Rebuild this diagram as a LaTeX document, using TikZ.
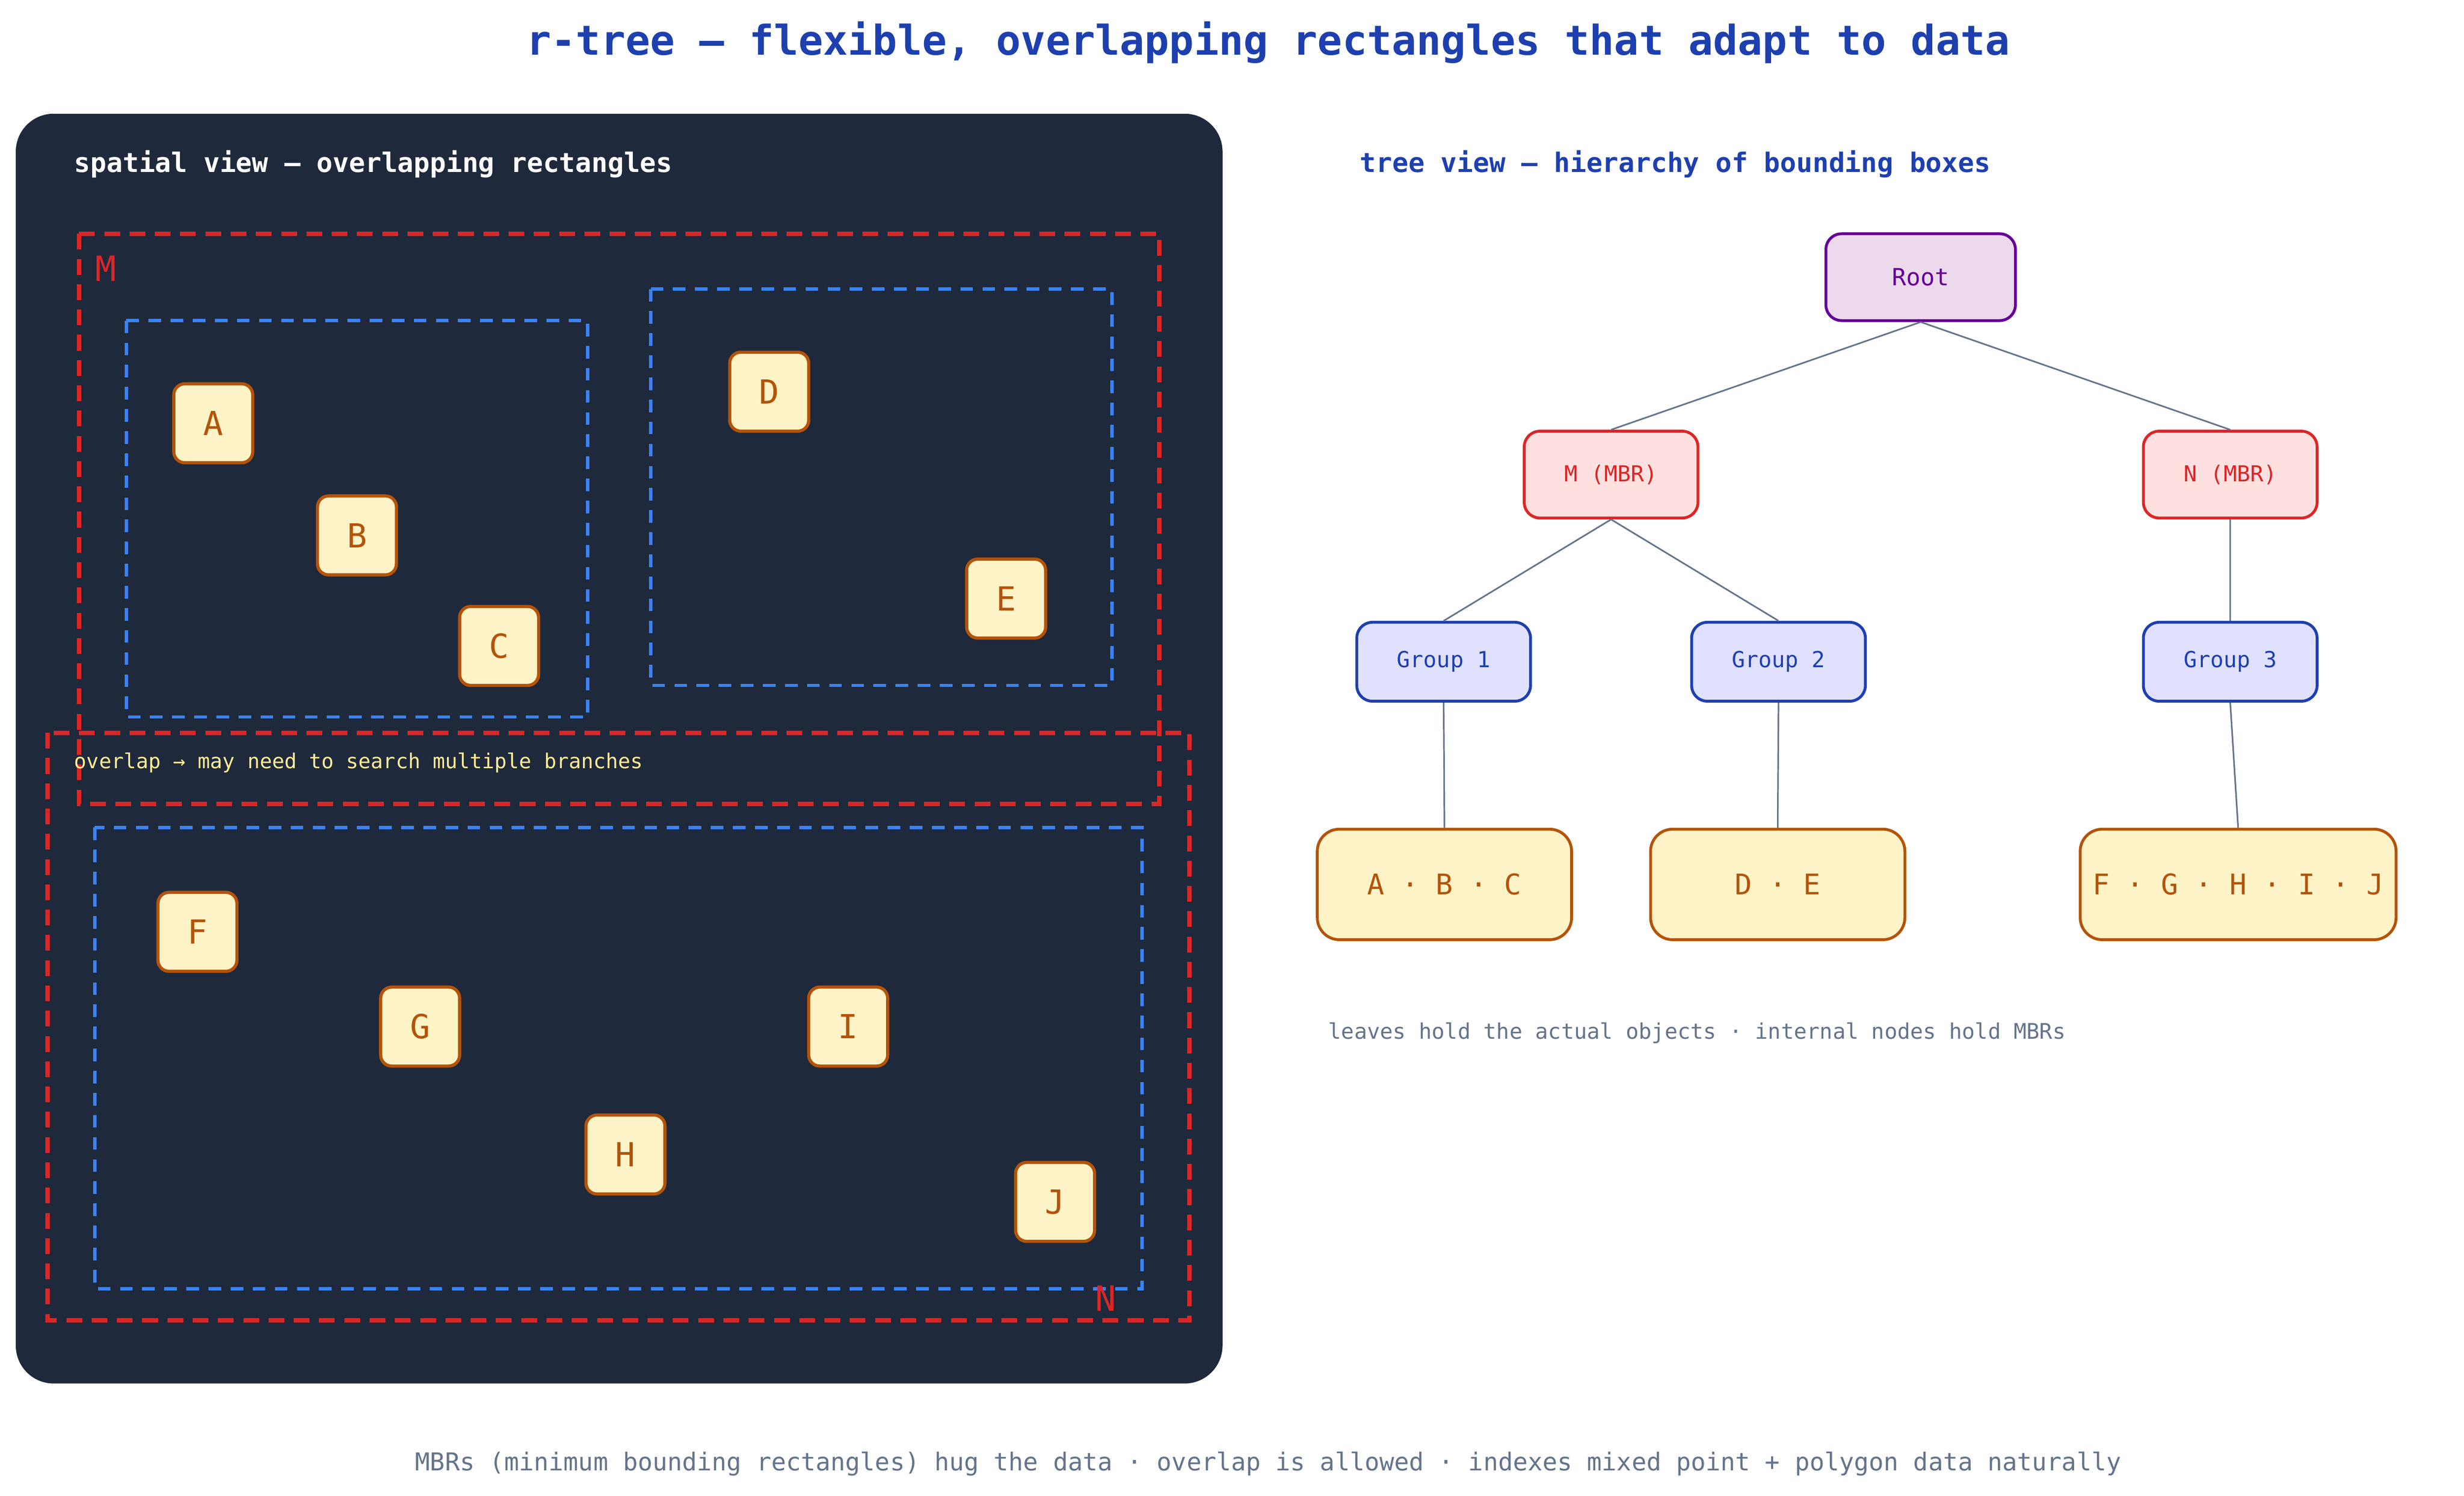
\documentclass[tikz,border=0pt]{standalone}
\usepackage{fontspec}
\setmainfont{DejaVu Sans Mono}
\begin{document}
\begin{tikzpicture}[x=0.5pt,y=-0.5pt,
 obj/.style={draw=brownc,fill=yel,line width=1pt,rounded corners=3.5pt,minimum width=25pt,minimum height=25pt,text=brownc,font=\fontsize{10.5}{12}\selectfont},
 mbr/.style={draw=redc,dash pattern=on 5pt off 3pt,line width=1.4pt},
 grp/.style={draw=bluec,dash pattern=on 4pt off 3pt,line width=1pt},
 tn/.style={rounded corners=5pt,line width=0.9pt,font=\fontsize{7}{8}\selectfont,minimum height=27.5pt,minimum width=55pt},
 edge/.style={draw=grayc,line width=0.5pt}]
\definecolor{panel}{HTML}{1E293B}
\definecolor{yel}{HTML}{FEF3C7}
\definecolor{brownc}{HTML}{B45309}
\definecolor{redc}{HTML}{DC2626}
\definecolor{bluec}{HTML}{3B82F6}
\definecolor{dblue}{HTML}{1E40AF}
\definecolor{grayc}{HTML}{64748B}
\useasboundingbox (0,0) rectangle (1560,947);
\fill[white] (0,0) rectangle (1560,947);
\node[text=dblue,font=\fontsize{13}{15}\selectfont\bfseries] (title) at (803,27) {r-tree — flexible, overlapping rectangles that adapt to data};
\fill[panel,rounded corners=12pt] (10,72) rectangle (774,876);
\node[anchor=west,text=white,font=\fontsize{8.5}{10}\selectfont\bfseries] (sv) at (40,104) {spatial view — overlapping rectangles};
\draw[mbr] (50,148) rectangle (734,509);
\node[text=redc,font=\fontsize{11}{12}\selectfont] (ml) at (67,170) {M};
\draw[grp] (80,203) rectangle (372,454);
\draw[grp] (412,183) rectangle (704,434);
\draw[mbr] (30,464) rectangle (753,836);
\draw[grp] (60,524) rectangle (723,816);
\node[text=redc,font=\fontsize{11}{12}\selectfont] (nl) at (700,822) {N};
\node[anchor=west,text=yellow!70!orange!40,font=\fontsize{6.5}{8}\selectfont] (ov) at (40,483) {overlap → may need to search multiple branches};
\foreach \n/\x/\y in {A/135/268,B/226/339,C/316/409,D/487/248,E/637/379,F/125/590,G/266/650,I/537/650,H/396/731,J/668/761}
 \node[obj] (o\n) at (\x,\y) {\n};
\node[anchor=west,text=dblue,font=\fontsize{8.5}{10}\selectfont\bfseries] (tv) at (854,104) {tree view — hierarchy of bounding boxes};
\node[tn,draw=violet!80!blue,fill=violet!15,text=violet!80!blue,minimum width=60pt,font=\fontsize{7.5}{9}\selectfont] (root) at (1216,175.5) {Root};
\node[tn,draw=redc,fill=red!12,text=redc] (m) at (1020,300.5) {M (MBR)};
\node[tn,draw=redc,fill=red!12,text=redc] (n) at (1412,300.5) {N (MBR)};
\node[tn,draw=dblue,fill=blue!12,text=dblue,minimum height=25pt] (g1) at (914,419) {Group 1};
\node[tn,draw=dblue,fill=blue!12,text=dblue,minimum height=25pt] (g2) at (1126,419) {Group 2};
\node[tn,draw=dblue,fill=blue!12,text=dblue,minimum height=25pt] (g3) at (1412,419) {Group 3};
\node[tn,draw=brownc,fill=yel,text=brownc,minimum width=80.5pt,minimum height=35pt,rounded corners=7pt,font=\fontsize{9}{10}\selectfont] (l1) at (914.5,560) {A · B · C};
\node[tn,draw=brownc,fill=yel,text=brownc,minimum width=80.5pt,minimum height=35pt,rounded corners=7pt,font=\fontsize{9}{10}\selectfont] (l2) at (1125.5,560) {D · E};
\node[tn,draw=brownc,fill=yel,text=brownc,minimum width=100pt,minimum height=35pt,rounded corners=7pt,font=\fontsize{9}{10}\selectfont] (l3) at (1417,560) {F · G · H · I · J};
\draw[edge] (root.south) -- (m.north);
\draw[edge] (root.south) -- (n.north);
\draw[edge] (m.south) -- (g1.north);
\draw[edge] (m.south) -- (g2.north);
\draw[edge] (n.south) -- (g3.north);
\draw[edge] (g1.south) -- (l1.north);
\draw[edge] (g2.south) -- (l2.north);
\draw[edge] (g3.south) -- (l3.north);
\node[anchor=west,text=grayc,font=\fontsize{6.8}{8}\selectfont] (note) at (834,654) {leaves hold the actual objects · internal nodes hold MBRs};
\node[text=grayc,font=\fontsize{7.8}{9}\selectfont] (cap) at (803,927) {MBRs (minimum bounding rectangles) hug the data · overlap is allowed · indexes mixed point + polygon data naturally};
\end{tikzpicture}
\end{document}
